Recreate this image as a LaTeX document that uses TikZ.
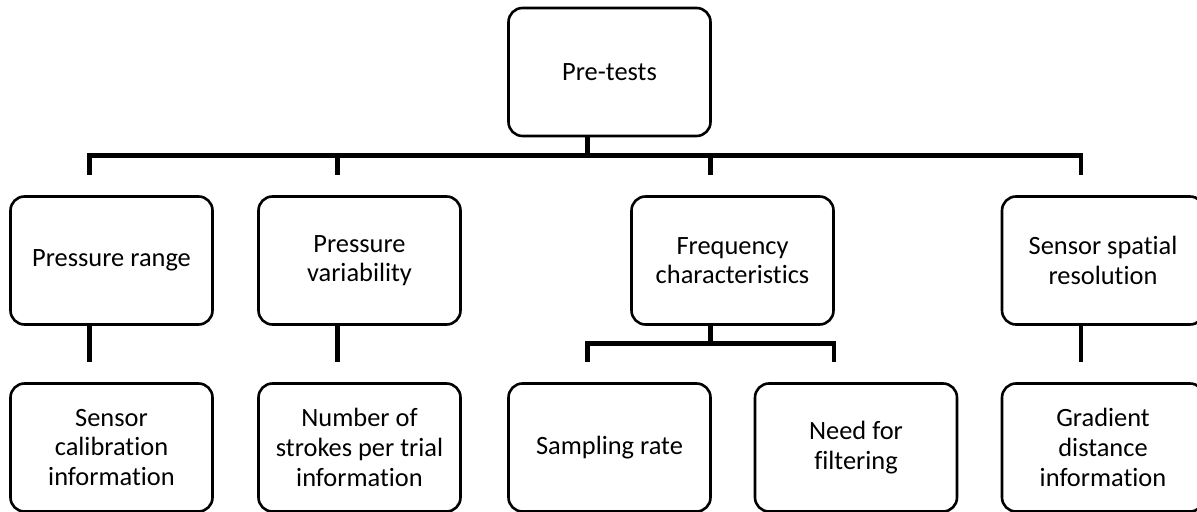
\documentclass[tikz,border=0pt]{standalone}
\usepackage{fontspec}
\setmainfont{Carlito}[Ligatures=NoCommon]

\begin{document}
\begin{tikzpicture}[x=0.5pt, y=-0.5pt,
  box/.style={draw=black, line width=1.3pt, rounded corners=7pt,
    minimum width=101pt, minimum height=64pt, align=center,
    font=\fontsize{13.2}{14.8}\selectfont},
  link/.style={draw=black, line width=2.3pt}]
  % === page frame (pixel grid, y grows downward) ===
  \useasboundingbox (0,0) rectangle (1197,512);

  % === top level ===
  \node[box] (pre) at (609.5, 72) {Pre-tests};

  % === second row (column pitch about 248) ===
  \node[box] (prange)  at (111.5, 260.5) {Pressure range};
  \node[box] (pvar)    at (359.5, 260.5) {Pressure\\variability};
  \node[box] (freq)    at (732.5, 260.5) {Frequency\\characteristics};
  \node[box] (spatial) at (1103, 260.5)  {Sensor spatial\\resolution};

  % === third row ===
  \node[box] (calib)    at (111.5, 447.5) {Sensor\\calibration\\information};
  \node[box] (strokes)  at (359.5, 447.5) {Number of\\strokes per trial\\information};
  \node[box] (sampling) at (609.5, 447.5) {Sampling rate};
  \node[box] (filter)   at (856, 447.5)   {Need for\\filtering};
  \node[box] (gradient) at (1103, 447.5)  {Gradient\\distance\\information};

  % === connectors: stems sit 11pt left of each box centre ===
  \foreach \child in {prange, pvar, freq, spatial} {
    \draw[link] ([xshift=-11pt]pre.south) -- ++(0,-9pt) -| ([shift={(-11pt,10pt)}]\child.north);
  }
  \foreach \child in {sampling, filter} {
    \draw[link] ([xshift=-11pt]freq.south) -- ++(0,-9pt) -| ([shift={(-11pt,10pt)}]\child.north);
  }
  \draw[link] ([xshift=-11pt]prange.south)  -- ([shift={(-11pt,10pt)}]calib.north);
  \draw[link] ([xshift=-11pt]pvar.south)    -- ([shift={(-11pt,10pt)}]strokes.north);
  \draw[link] ([xshift=-11pt]spatial.south) -- ([shift={(-11pt,10pt)}]gradient.north);
\end{tikzpicture}
\end{document}
